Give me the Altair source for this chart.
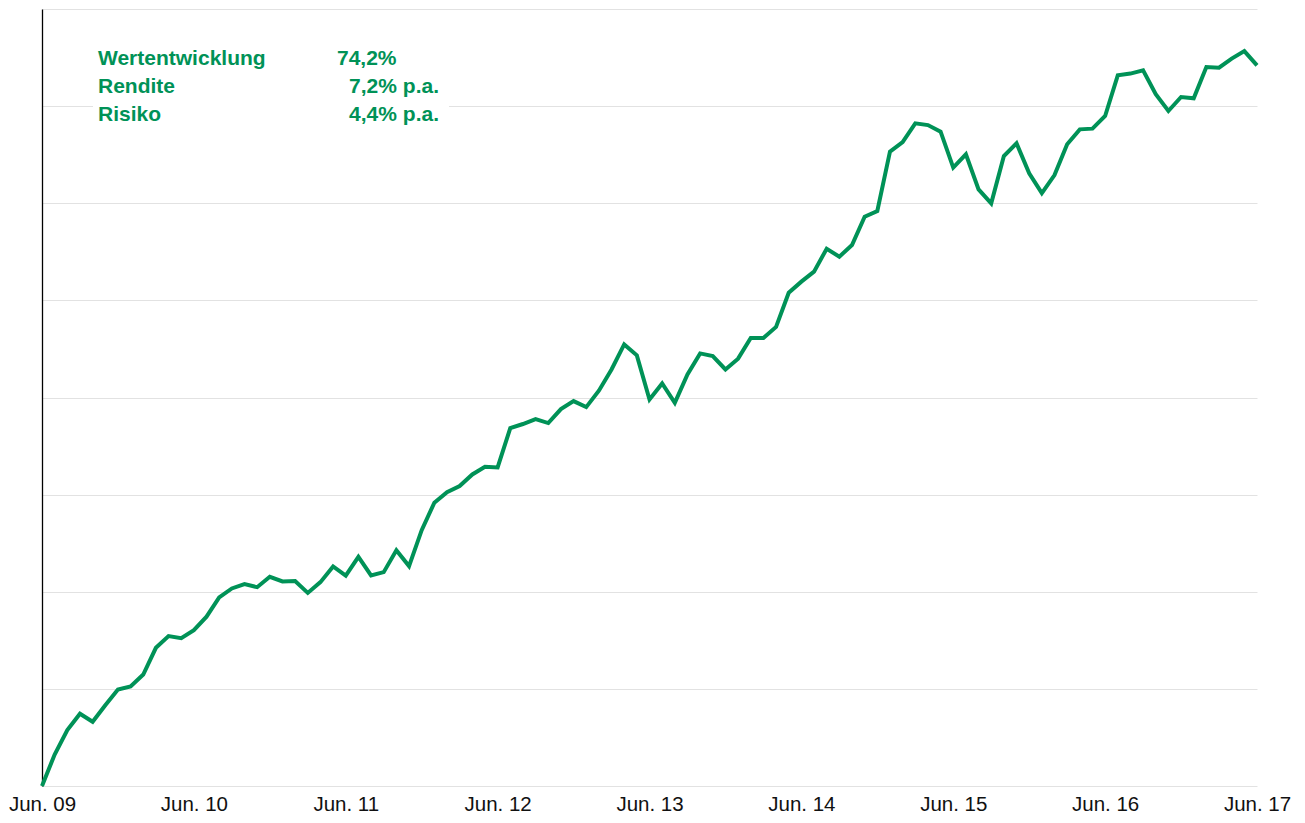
import altair as alt
import pandas as pd

# Monthly index: 0 = Jun. 09 ... 96 = Jun. 17
months = list(range(97))
values = [
    0, 3.24, 5.75, 7.44, 6.61, 8.32, 9.94, 10.25, 11.48, 14.23, 15.43, 15.22,
    16.05, 17.43, 19.41, 20.34, 20.78, 20.47, 21.54, 21.06, 21.1, 19.88, 20.99, 22.6,
    21.65, 23.6, 21.68, 22.02, 24.28, 22.64, 26.34, 29.17, 30.26, 30.88, 32.08, 32.87,
    32.8, 36.85, 37.27, 37.78, 37.37, 38.81, 39.63, 39.01, 40.7, 42.89, 45.47, 44.34,
    39.8, 41.45, 39.46, 42.38, 44.54, 44.26, 42.89, 44.0, 46.12, 46.12, 47.27, 50.79,
    51.93, 52.96, 55.32, 54.5, 55.7, 58.62, 59.2, 65.31, 66.3, 68.23, 68.05, 67.37,
    63.67, 65.04, 61.43, 59.99, 64.86, 66.17, 63.08, 61.05, 62.9, 66.07, 67.61, 67.68,
    68.98, 73.17, 73.35, 73.69, 71.22, 69.5, 70.94, 70.8, 74.03, 73.96, 74.89, 75.67,
    74.2,
]
tick_labels = ["Jun. 09", "Jun. 10", "Jun. 11", "Jun. 12", "Jun. 13",
               "Jun. 14", "Jun. 15", "Jun. 16", "Jun. 17"]
tick_values = [12 * i for i in range(len(tick_labels))]
y_ticks = [0, 10, 20, 30, 40, 50, 60, 70, 80]

stat_names = ["Wertentwicklung", "Rendite", "Risiko"]
stat_values = ["74,2%", "7,2% p.a.", "4,4% p.a."]

GREEN = "#009257"
FONT = "Liberation Sans"

df = pd.DataFrame({"m": months, "v": values})

label_expr = "[" + ",".join("'%s'" % t for t in tick_labels) + "][round(datum.value / 12)]"

x_enc = alt.X(
    "m:Q",
    scale=alt.Scale(domain=[0, 96], nice=False, zero=False),
    axis=alt.Axis(
        values=tick_values, labelExpr=label_expr, title=None, grid=False,
        domain=False, ticks=False, labelFont=FONT, labelFontSize=20.5,
        labelColor="#111111", labelPadding=24.5, labelBaseline="alphabetic",
        labelFlush=False,
    ),
)
y_enc = alt.Y(
    "v:Q",
    scale=alt.Scale(domain=[0, 80], nice=False),
    axis=alt.Axis(
        values=y_ticks, labels=False, ticks=False, title=None, grid=True,
        gridColor="#e2e2e2", gridWidth=1, domain=True, domainColor="#000000",
        domainWidth=1.3,
    ),
)

line = alt.Chart(df).mark_line(color=GREEN, strokeWidth=4, strokeJoin="miter").encode(
    x=x_enc, y=y_enc
)

box = alt.Chart(pd.DataFrame({"a": [0]})).mark_rect(color="white").encode(
    x=alt.value(51), x2=alt.value(407), y=alt.value(30), y2=alt.value(122)
)

names_df = pd.DataFrame({"t": stat_names, "row": [0, 1, 2]})
vals_df = pd.DataFrame({"t": stat_values, "row": [0, 1, 2]})

row_y = alt.Y("row:Q", scale=alt.Scale(domain=[0, 2], range=[50, 106]), axis=None)

text_style = dict(baseline="middle", font=FONT, fontSize=21, fontWeight="bold", color=GREEN)

names = alt.Chart(names_df).mark_text(align="left", **text_style).encode(
    x=alt.value(56), y=row_y, text="t:N"
)

vals_first = alt.Chart(vals_df).transform_filter("datum.row == 0").mark_text(
    align="left", **text_style
).encode(x=alt.value(295), y=row_y, text="t:N")

vals_rest = alt.Chart(vals_df).transform_filter("datum.row > 0").mark_text(
    align="right", **text_style
).encode(x=alt.value(397), y=row_y, text="t:N")

chart = alt.layer(box, line, names, vals_first, vals_rest).resolve_scale(
    y="independent"
).properties(
    width=1215, height=777,
    autosize=alt.AutoSizeParams(type="none"),
    padding={"left": 34, "top": 1, "right": 40, "bottom": 29},
).configure_view(stroke=None).configure_axis(labelFont=FONT)

chart.save("out.html", embed_options={"renderer": "svg", "actions": False})
